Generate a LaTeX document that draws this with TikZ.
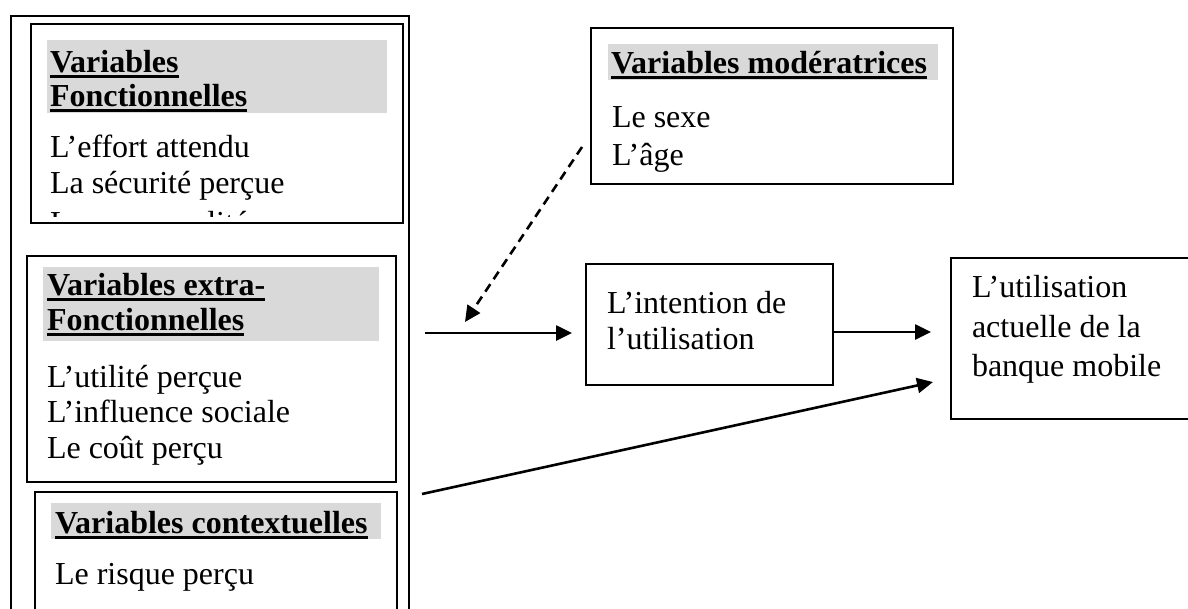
\documentclass[tikz,border=0pt]{standalone}
\usepackage{fontspec}
\setmainfont{Liberation Serif}
\usetikzlibrary{arrows.meta}
\definecolor{hlgray}{HTML}{D9D9D9}
\begin{document}
\begin{tikzpicture}[x=1pt,y=-1pt,
  box/.style={draw, line width=1.7pt, anchor=north west, inner sep=0pt, outer sep=0pt},
  txt/.style={anchor=base west, inner sep=0pt, outer sep=0pt, font=\fontsize{32}{36}\selectfont},
  hdr/.style={txt, font=\fontsize{32}{36}\selectfont\bfseries},
  hl/.style={fill=hlgray, draw=none},
  ul/.style={line width=3pt},
  arr/.style={line width=2.6pt, -{Triangle[length=16pt,width=15pt]}},
  darr/.style={arr, dash pattern=on 9pt off 6pt},
]
\useasboundingbox (0,0) rectangle (1188,608);
\clip (0,0) rectangle (1188,608);

% outer frame
\node[box, minimum width=398pt, minimum height=640pt] (outer) at (11,16) {};

% box 1 : Variables Fonctionnelles
\node[box, minimum width=372pt, minimum height=199pt] (fonc) at (31,24) {};
\fill[hl] (47,40) rectangle (387,113);
\node[hdr] (f1) at (50,72) {Variables};
\node[hdr] (f2) at (50,106) {Fonctionnelles};
\draw[ul] ([yshift=-4pt]f1.base west) -- ([yshift=-4pt]f1.base east);
\draw[ul] ([yshift=-4pt]f2.base west) -- ([yshift=-4pt]f2.base east);
\node[txt] (fb1) at (50,157) {L’effort attendu};
\node[txt] (fb2) at (50,193) {La sécurité perçue};
\begin{scope}
\clip (33,26) rectangle (401,216);
\node[txt] (fb3) at (50,233) {La personnalité};
\end{scope}

% box 2 : Variables extra-Fonctionnelles
\node[box, minimum width=369pt, minimum height=226pt] (extra) at (27,256) {};
\fill[hl] (43,267) rectangle (379,341);
\node[hdr] (e1) at (47,295) {Variables extra-};
\node[hdr] (e2) at (47,330) {Fonctionnelles};
\draw[ul] ([yshift=-4pt]e1.base west) -- ([yshift=-4pt]e1.base east);
\draw[ul] ([yshift=-4pt]e2.base west) -- ([yshift=-4pt]e2.base east);
\node[txt] (eb1) at (47,387) {L’utilité perçue};
\node[txt] (eb2) at (47,422) {L’influence sociale};
\node[txt] (eb3) at (47,458) {Le coût perçu};

% box 3 : Variables contextuelles
\node[box, minimum width=362pt, minimum height=140pt] (ctx) at (35,492) {};
\fill[hl] (51,503) rectangle (381,539);
\node[hdr] (c1) at (55,533) {Variables contextuelles};
\draw[ul] ([yshift=-4pt]c1.base west) -- ([yshift=-4pt]c1.base east);
\node[txt] (cb1) at (55,584) {Le risque perçu};

% moderators
\node[box, minimum width=362pt, minimum height=156pt] (mod) at (591,28) {};
\fill[hl] (608,44) rectangle (938,80);
\node[hdr] (m1) at (611,73) {Variables modératrices};
\draw[ul] ([yshift=-4pt]m1.base west) -- ([yshift=-4pt]m1.base east);
\node[txt] (mb1) at (612,127) {Le sexe};
\node[txt] (mb2) at (612,165) {L’âge};

% intention
\node[box, minimum width=247pt, minimum height=121pt] (int) at (586,264) {};
\node[txt] (i1) at (607,313) {L’intention de};
\node[txt] (i2) at (607,349) {l’utilisation};

% usage
\node[box, minimum width=260pt, minimum height=161pt] (use) at (951,258) {};
\node[txt] (u1) at (972,297) {L’utilisation};
\node[txt] (u2) at (972,337) {actuelle de la};
\node[txt] (u3) at (972,376) {banque mobile};

% connectors
\coordinate (a1s) at (425,333);
\coordinate (a1e) at (572,333);
\coordinate (a2e) at (931,332);
\coordinate (a3s) at (422,494);
\coordinate (a3e) at (933,382);
\coordinate (dse) at (465,322);
\coordinate (dss) at (582,147);

\draw[arr] (a1s) -- (a1e);
\draw[arr] (int.east |- a2e) -- (a2e);
\draw[arr] (a3s) -- (a3e);
\draw[darr] (dss) -- (dse);
\end{tikzpicture}
\end{document}
